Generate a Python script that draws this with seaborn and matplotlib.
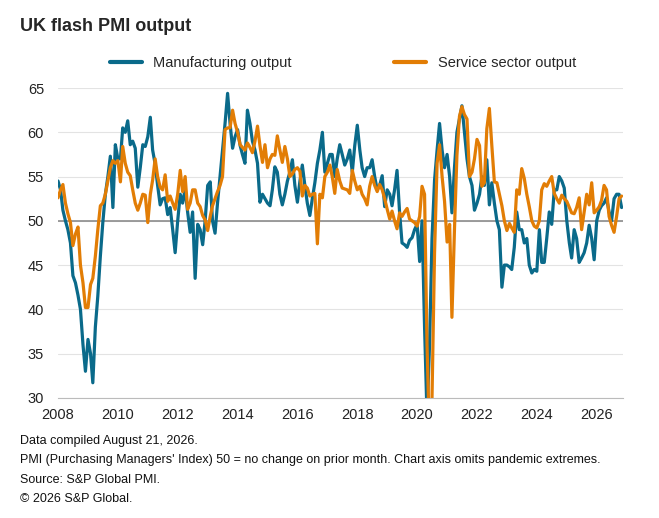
import matplotlib
matplotlib.use("Agg")
import matplotlib.pyplot as plt
import matplotlib.dates as mdates
import seaborn as sns
import pandas as pd
import numpy as np

manufacturing = [54.5,53.5,51.2,50,49,47.5,43.8,43,41.6,40,36,33,36.6,35,31.7,38,41.5,46,49.8,53,55,57.3,51.5,58.6,
57,57,60.5,60,61.3,58.6,59,58.2,53.8,56,58.6,58.4,59.5,61.7,58,56.4,54,51.8,52.5,52.6,50.7,51.5,49,46.4,
50,53,52,53.6,51,48.7,51,43.5,49.6,49,47.3,50,54,54.4,50,48.6,52,55,58,61,64.4,61,58.2,59.5,
60.3,58.5,57.5,56.5,62.5,61,59,58,56.5,52.1,53,52.5,52,51.7,53.5,56.1,55.5,53,51.8,53,54.5,55.5,56.9,54,
52.1,54.5,56.3,54,52,50.6,52.5,54.3,56.5,58,60,55.5,56.5,57.5,57.5,55,57,58.6,57.5,56.3,57,58,55.5,58.5,
60.8,58,56,55,56,56,56.9,55,53.5,54,55.1,51.6,53.5,53,51.7,53.5,55.7,51,47.5,47.3,47,47.8,48.1,49,
49.6,45.4,50,38,28,36,48,54.6,58,61,58,56,57.5,55,50.9,56,60,61.5,63,60,57,55,54,51.2,
52,53,55,54,56.9,51.8,54.3,52,50,49,42.5,45,45,44.8,44.5,47,51,49,49,47.5,48,45,44.1,44.5,
44.3,49,45.3,45.3,48,51,49.6,53.5,53.5,55,54.5,53.7,50,47.5,45.8,49,48,45.3,45.8,46.4,47.5,49.5,48,45.6,
50,51.2,51.7,52,52.6,51,50,52.5,53,53,51.5]

services = [52.6,53.5,54.1,52,50.8,49.8,47.2,48.5,49.3,45,43,40.2,40.2,42.8,43.5,46,49,51.7,52,53,54.5,56,56.8,56.5,
56.8,54.4,58.4,56.5,55.5,55.1,53.5,52,51.2,52,53,52.9,49.8,53,54.6,57,55,53.8,53.5,55.2,52.2,52.8,52,51.3,
53,55.7,53.3,55,51.3,52,53.5,53.5,52,51.6,50.6,50.1,48.9,50.5,51.7,52.5,53.3,54,55,60.3,60.5,60.5,62.5,61,
60,58.6,58.3,58,58.8,58.3,57.7,59,60.7,58.5,56.6,58.6,56,57,57.5,57.4,59.6,58,56.6,58.4,57,55,55.3,55.8,
56,55.6,52.8,54,53.7,52.8,53,53.1,47.4,53,52.6,55,55.5,56.3,55,53.1,55.8,54.5,53.7,53.6,53.5,53.1,55.7,54.5,
53.5,53.9,53,52.5,51.8,53.9,55,54,53.3,54.1,53.5,52.5,51.3,50.2,51.1,50,49.1,50.9,50.5,51,51.4,50.2,50,49.8,
49.4,50.5,53.9,53,36,25,30,46.4,56.5,58.6,55,52.2,47.6,49.6,39.1,49,57.4,61.8,62.9,62,61.5,55,55.5,57,
59.2,58.5,53.9,54.3,60.4,62.7,58.5,54.4,54.3,53,51.7,50,48.9,49.7,49.2,48.7,53.5,53,55.9,54.8,53,51.6,50,49.4,
49.2,50,53.5,54.2,53.9,54.5,55,53.1,52.5,52,52.9,52.5,52.2,51.5,50.9,50.8,51.5,52.6,49,51,53,51.8,54.3,50.9,
51.2,51.6,52.3,54,53.5,50.5,49.5,48.7,50.5,52.5,52.8]

labels = ["Manufacturing output", "Service sector output"]
colors = ["#0a6a8a", "#e27d05"]

frames = []
for lab, vals in zip(labels, [manufacturing, services]):
    d = pd.date_range("2008-01-01", periods=len(vals), freq="MS")
    frames.append(pd.DataFrame({"date": d, "value": vals, "series": lab}))
df = pd.concat(frames)

sns.set_style("white")
plt.rcParams['font.family'] = ['Liberation Sans', 'DejaVu Sans']

fig = plt.figure(figsize=(6.59, 5.18), dpi=100)
ax = fig.add_axes([0.088, 0.232, 0.857, 0.598])
sns.lineplot(data=df, x="date", y="value", hue="series", palette=colors,
             linewidth=2.3, ax=ax, legend=False)
ax.set_ylim(30, 65)
ax.set_xlim(pd.Timestamp("2008-01-01"), pd.Timestamp("2026-11-15"))
ax.set_yticks(range(30, 66, 5))
ax.set_xticks([pd.Timestamp(f"{y}-01-01") for y in range(2008, 2027, 2)])
ax.xaxis.set_major_formatter(mdates.DateFormatter("%Y"))
ax.grid(axis="y", color="#e3e3e3", linewidth=0.8)
ax.set_axisbelow(True)
ax.axhline(50, color="#8c8c8c", linewidth=1.2, zorder=1)
for s in ["top", "right", "left"]:
    ax.spines[s].set_visible(False)
ax.spines["bottom"].set_color("#bbbbbb")
ax.tick_params(axis="both", length=0, labelsize=10.5, colors="#222222")
ax.tick_params(axis="x", pad=7)
ax.tick_params(axis="y", pad=10)
ax.set_xlabel("")
ax.set_ylabel("")

fig.text(0.03, 0.94, "UK flash PMI output", fontsize=13, fontweight="bold")
from matplotlib.lines import Line2D
handles = [Line2D([], [], color=c, linewidth=3) for c in colors]
fig.legend(handles, labels, loc="center", bbox_to_anchor=(0.52, 0.878), ncol=2,
           frameon=False, fontsize=10.5, handlelength=2.2, columnspacing=7)

notes = ["Data compiled August 21, 2026.",
         "PMI (Purchasing Managers' Index) 50 = no change on prior month. Chart axis omits pandemic extremes.",
         "Source: S&P Global PMI.",
         "© 2026 S&P Global."]
for i, t in enumerate(notes):
    fig.text(0.03, 0.143 - i * 0.0375, t, fontsize=9, color="#111111")

fig.savefig("out.png", dpi=100)
